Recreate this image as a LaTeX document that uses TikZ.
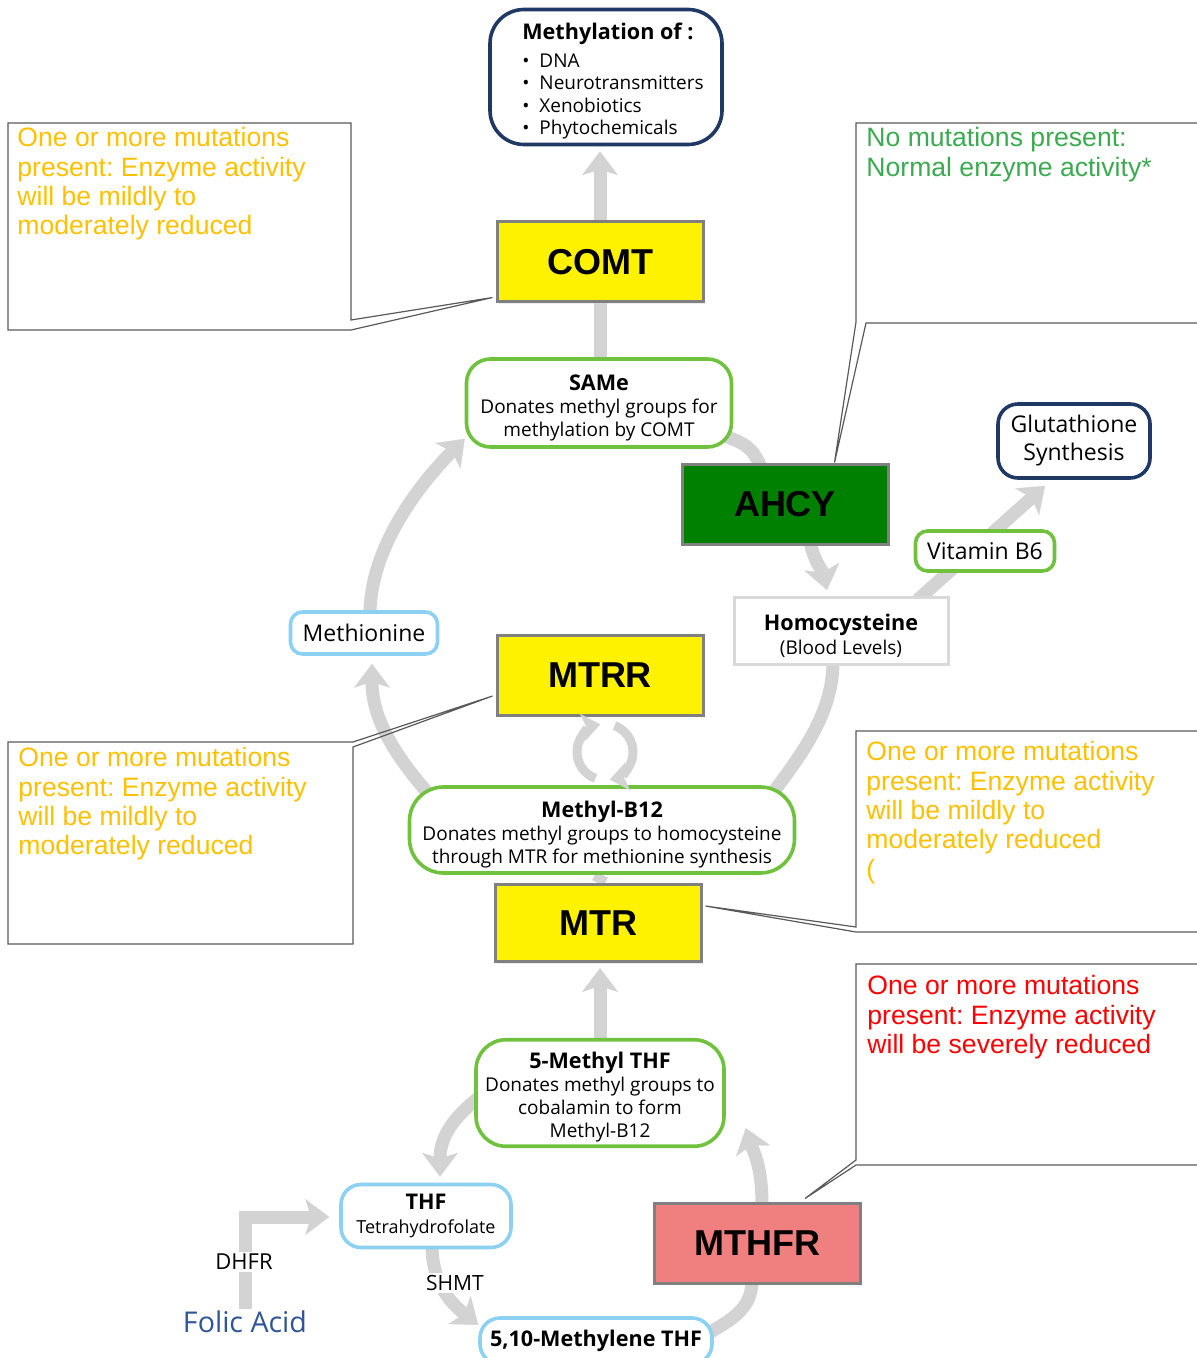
\documentclass[tikz,border=0pt]{standalone}
\usepackage{fontspec}
\setmainfont{Open Sans}
\newfontfamily\arialf{Liberation Sans}
\usetikzlibrary{arrows.meta, calc, backgrounds, shadows}
\frenchspacing

\definecolor{flowgray}{RGB}{211,211,211}
\definecolor{poolgreen}{RGB}{112,194,62}
\definecolor{outnavy}{RGB}{31,56,100}
\definecolor{folblue}{RGB}{140,208,242}
\definecolor{ahcygreen}{RGB}{0,128,0}
\definecolor{mthfrred}{RGB}{240,128,128}
\definecolor{folicblue}{RGB}{47,85,151}
\definecolor{calloutorange}{RGB}{255,192,0}
\definecolor{calloutgreen}{RGB}{60,170,80}
\definecolor{calloutred}{RGB}{255,0,0}

\newcommand{\nodetitle}{\bfseries\fontsize{10.8}{13}\selectfont}
\newcommand{\titlestrut}{\rule{0pt}{12.5pt}}
\newcommand{\methitem}[1]{\hspace*{7pt}\textbullet\hspace{5pt}#1}

\begin{document}
\begin{tikzpicture}[x=0.5pt, y=-0.5pt,
    enzyme/.style={draw=black!50, line width=1.5pt, inner sep=0pt, minimum width=103pt, minimum height=40pt,
        font=\arialf\bfseries\fontsize{18}{20}\selectfont,
        drop shadow={shadow xshift=1.2pt, shadow yshift=-1.2pt, fill=black!15}},
    pool/.style={draw=poolgreen, line width=1.8pt, fill=white, align=center, inner sep=2pt,
        font=\fontsize{9.5}{11.5}\selectfont},
    outcome/.style={draw=outnavy, line width=1.8pt, fill=white, inner sep=2pt},
    folate/.style={draw=folblue, line width=1.8pt, fill=white, align=center, inner sep=2pt},
    flow/.style={draw=flowgray, line width=6.5pt},
    flowtip/.style={flow, -{Stealth[length=12pt, width=18pt, inset=3pt, line width=0.1pt]}},
    recycle/.style={draw=flowgray, line width=4.5pt, -{Stealth[length=9pt, width=14pt, inset=2pt, line width=0.1pt]}},
    callout/.style={draw=black!65, line width=0.6pt},
    note/.style={anchor=north west, inner sep=0pt, align=left, font=\arialf\fontsize{13.3}{14.7}\selectfont},
    tag/.style={fill=white, inner sep=1pt, font=\fontsize{10.5}{12}\selectfont}]

    \useasboundingbox (0,0) rectangle (1196,1358);

    % main cycle
    \node[outcome, rounded corners=17pt, minimum width=116pt, minimum height=67.5pt, align=left,
        font=\fontsize{9.5}{11.25}\selectfont] (meth) at (606,77) {\titlestrut\hspace*{7pt}{\nodetitle Methylation of :}\\[2.5pt]
        \methitem{DNA}\\
        \methitem{Neurotransmitters}\\
        \methitem{Xenobiotics}\\
        \methitem{Phytochemicals}};
    \node[enzyme, fill=yellow] (comt) at (600,262) {COMT};
    \node[pool, rounded corners=12pt, minimum width=132.5pt, minimum height=44pt] (same) at (599,403) {\titlestrut{\nodetitle SAMe}\\Donates methyl groups for\\methylation by COMT};
    \node[enzyme, fill=ahcygreen] (ahcy) at (785,504) {AHCY};
    \node[draw=black!15, line width=1.5pt, fill=white, minimum width=107pt, minimum height=33.5pt, align=center,
        inner sep=1pt, font=\fontsize{9.5}{12}\selectfont] (homo) at (841,631) {\titlestrut{\nodetitle Homocysteine}\\(Blood Levels)};
    \node[pool, rounded corners=6pt, minimum width=69.5pt, minimum height=20pt, font=\fontsize{11.5}{13}\selectfont] (vitb6) at (985,551) {Vitamin B6};
    \node[outcome, rounded corners=10pt, minimum width=76pt, minimum height=37pt, align=center,
        font=\fontsize{11.5}{14}\selectfont] (glut) at (1074,441) {Glutathione\\Synthesis};
    \node[folate, rounded corners=6pt, minimum width=73.5pt, minimum height=21pt, font=\fontsize{11.5}{13}\selectfont] (methionine) at (364,633) {Methionine};
    \node[enzyme, fill=yellow] (mtrr) at (600,675) {MTRR};
    \node[pool, rounded corners=17pt, minimum width=192.5pt, minimum height=43pt] (mb12) at (602,830) {\titlestrut{\nodetitle Methyl-B12}\\Donates methyl groups to homocysteine\\through MTR for methionine synthesis};
    \node[enzyme, fill=yellow, minimum height=38.5pt] (mtr) at (598,923) {MTR};

    % folate cycle
    \node[pool, rounded corners=15pt, minimum width=124pt, minimum height=53pt] (mthf) at (600,1093) {\titlestrut{\nodetitle 5-Methyl THF}\\Donates methyl groups to\\cobalamin to form\\Methyl-B12};
    \node[folate, rounded corners=10pt, minimum width=85pt, minimum height=31.5pt, font=\fontsize{9}{12}\selectfont] (thf) at (426,1216) {{\nodetitle THF}\\Tetrahydrofolate};
    \node[enzyme, fill=mthfrred] (mthfr) at (757,1243) {MTHFR};
    \node[folate, rounded corners=10pt, minimum width=116pt, minimum height=23pt, font=\nodetitle] (methylene) at (596,1341) {5,10-Methylene THF};
    \node[text=folicblue, font=\fontsize{14.3}{16}\selectfont, inner sep=1pt] (folic) at (245,1322) {Folic Acid};
    \node[tag, font=\fontsize{11}{12}\selectfont] (dhfr) at (244,1262) {DHFR};
    \node[tag] (shmt) at (455,1283) {SHMT};

    \begin{scope}[on background layer]
        \draw[flowtip] (comt.north) -- ($(meth.south)+(-6,5)$);
        \draw[flow] (same.north -| comt.south) -- (comt.south);
        \draw[flow] ($(same.south east)+(-12,-14)$) .. controls +(22,8) and +(-8,-20) .. ($(ahcy.north west)+(80,4)$);
        \draw[flowtip] ($(ahcy.south)+(25,-4)$) .. controls +(4,20) and +(-4,-18) .. ($(homo.north)+(-14,-6)$);
        \draw[flowtip] ($(homo.north east)+(-32,4)$) -- ($(glut.south)+(-29,6)$);
        \draw[flow] ($(homo.south)+(-8,-4)$) .. controls +(0,55) and +(25,-35) .. ($(mb12.north east)+(-25,10)$);
        \draw[flowtip] ($(mb12.north west)+(22,10)$) .. controls +(-35,-40) and +(0,55) .. ($(methionine.south)+(8,8)$);
        \draw[flowtip] ($(methionine.north)+(6,4)$) .. controls +(0,-70) and +(-40,40) .. ($(same.south west)+(0,-10)$);
        \draw[flow] (mtr.north) -- (mb12.south);
        \draw[flowtip] (mthf.north) -- ($(mtr.south)+(2,5)$);
        \draw[flowtip] ($(mthf.west)+(4,5)$) .. controls +(-25,20) and +(0,-40) .. ($(thf.north)+(14,-6)$);
        \draw[flowtip] ($(thf.south)+(6,-4)$) .. controls +(0,40) and +(-25,-20) .. ($(methylene.west)+(0,-16)$);
        \draw[flow] ($(methylene.east)+(-10,-5)$) .. controls +(25,-15) and +(0,30) .. ($(mthfr.south)+(-5,-4)$);
        \draw[flowtip] ($(mthfr.north)+(5,4)$) .. controls +(0,-40) and +(8,25) .. ($(mthf.south east)+(20,-20)$);
        \draw[flowtip] (folic.north) |- ($(thf.west)+(-10,1)$);
    \end{scope}

    % MTRR recycles methyl-B12
    \coordinate (cyc) at (605,752);
    \begin{scope}[shift={(cyc)}, x=1pt, y=1pt]
        \draw[recycle] (250:14) arc[start angle=250, end angle=100, radius=14];
        \draw[recycle] (70:14) arc[start angle=70, end angle=-80, radius=14];
    \end{scope}

    % callouts
    \node[note, text=calloutorange] (noteComt) at (17,127) {One or more mutations\\present: Enzyme activity\\will be mildly to\\moderately reduced};
    \node[note, text=calloutgreen] (noteAhcy) at (866,127) {No mutations present:\\Normal enzyme activity*};
    \node[note, text=calloutorange] (noteMtrr) at (18,747) {One or more mutations\\present: Enzyme activity\\will be mildly to\\moderately reduced};
    \node[note, text=calloutorange] (noteMtr) at (866,741) {One or more mutations\\present: Enzyme activity\\will be mildly to\\moderately reduced\\(};
    \node[note, text=calloutred] (noteMthfr) at (867,975) {One or more mutations\\present: Enzyme activity\\will be severely reduced};

    \draw[callout] (351,320) -- (351,123) -- (8,123) -- (8,330) -- (351,330) -- ($(comt.south west)+(-3,-6)$) -- cycle;
    \draw[callout] (1210,123) -- (856,123) -- (856,322) -- ($(ahcy.north east)+(-55,0)$) -- (866,323) -- (1210,323);
    \draw[callout] (353,742) -- (8,742) -- (8,944) -- (353,944) -- (353,747) -- ($(mtrr.west)+(-3,21)$) -- cycle;
    \draw[callout] (1210,731) -- (856,731) -- (856,927) -- ($(mtr.east)+(3,-17)$) -- (856,932) -- (1210,932);
    \draw[callout] (1210,964) -- (856,964) -- (856,1160) -- ($(mthfr.north)+(48,-3)$) -- (856,1165) -- (1210,1165);
\end{tikzpicture}
\end{document}
